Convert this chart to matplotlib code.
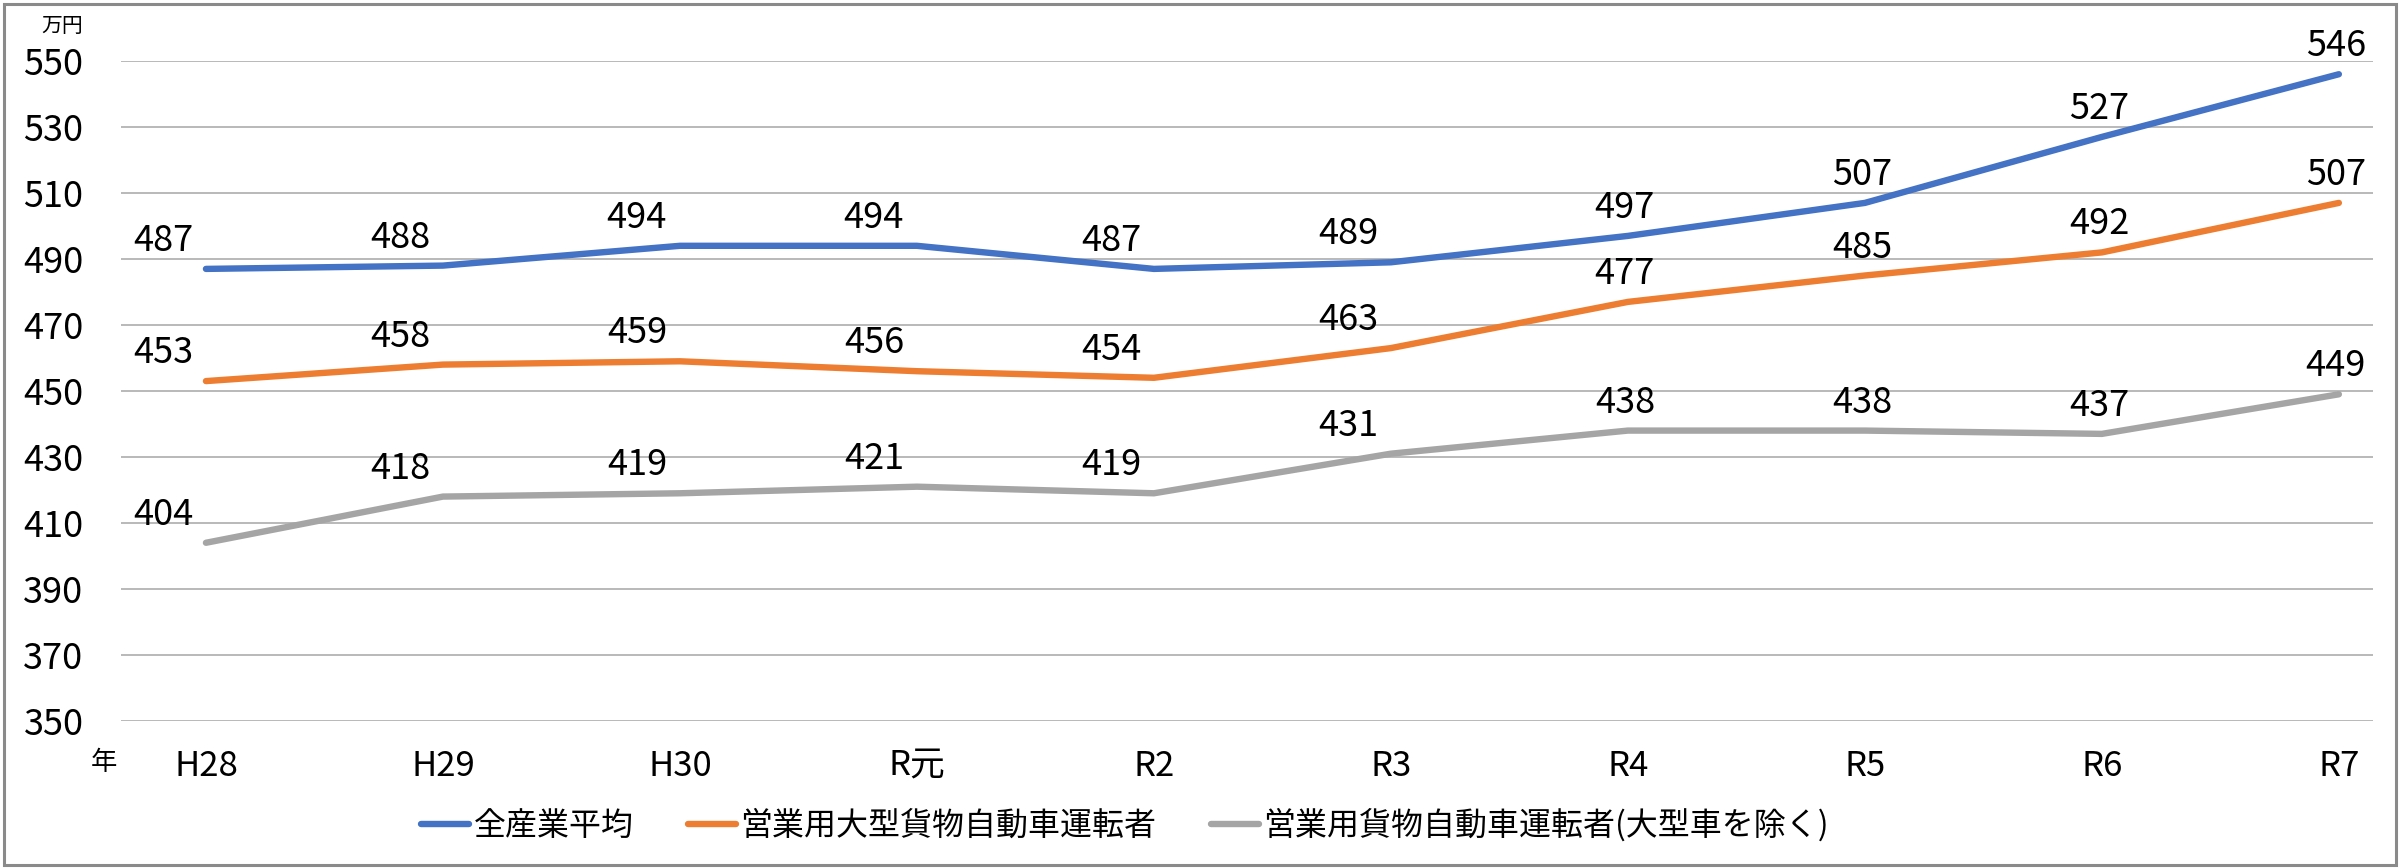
import matplotlib
matplotlib.use("Agg")
import matplotlib.pyplot as plt
from matplotlib.patches import Rectangle

plt.rcParams['font.family'] = ['Noto Sans CJK JP', 'DejaVu Sans']

# data
years = ["H28", "H29", "H30", "R元", "R2", "R3", "R4", "R5", "R6", "R7"]
all_industry = [487, 488, 494, 494, 487, 489, 497, 507, 527, 546]
large_truck = [453, 458, 459, 456, 454, 463, 477, 485, 492, 507]
small_truck = [404, 418, 419, 421, 419, 431, 438, 438, 437, 449]
series_names = ["全産業平均", "営業用大型貨物自動車運転者", "営業用貨物自動車運転者(大型車を除く)"]
colors = ["#4472C4", "#ED7D31", "#A5A5A5"]

fig = plt.figure(figsize=(24, 8.68), dpi=100)
ax = fig.add_axes([0.0504, 0.1694, 0.9383, 0.7603])

x = list(range(len(years)))
for vals, name, c in zip([all_industry, large_truck, small_truck], series_names, colors):
    ax.plot(x, vals, color=c, lw=4.6, solid_capstyle='round', solid_joinstyle='round',
            label=name, zorder=3, clip_on=False)
    for i, v in enumerate(vals):
        dx = -43 if i < 6 else -3
        ax.annotate(str(v), (i, v), xytext=(dx, 28), textcoords='offset pixels',
                    ha='center', va='center', fontsize=26, color='black', zorder=4)

ax.set_ylim(350, 550)
ax.set_yticks(range(350, 551, 20))
ax.set_xlim(-0.3586, 9.1435)
ax.set_xticks(x)
ax.set_xticklabels(years)
ax.grid(axis='y', color='#B3B3B3', lw=1.3)
ax.set_axisbelow(True)
for s in ax.spines.values():
    s.set_visible(False)
ax.tick_params(axis='both', length=0)
ax.tick_params(axis='y', pad=27, labelsize=26)
ax.tick_params(axis='x', pad=20, labelsize=25)

fig.text(62 / 2400, 1 - 26 / 868, "万円", fontsize=15, ha='center', va='center')
fig.text(104 / 2400, 1 - 763 / 868, "年", fontsize=19, ha='center', va='center')

fig.legend(loc='center', bbox_to_anchor=(1125 / 2400, 1 - 825 / 868), ncol=3,
           frameon=False, fontsize=23, handlelength=1.5, handletextpad=0.15,
           columnspacing=1.7)

fig.patches.append(Rectangle((4 / 2400, 3 / 868), 2392 / 2400, 861 / 868,
                             transform=fig.transFigure, fill=False,
                             ec='#8A8A8A', lw=2.2))

fig.savefig("out.png", dpi=100)
